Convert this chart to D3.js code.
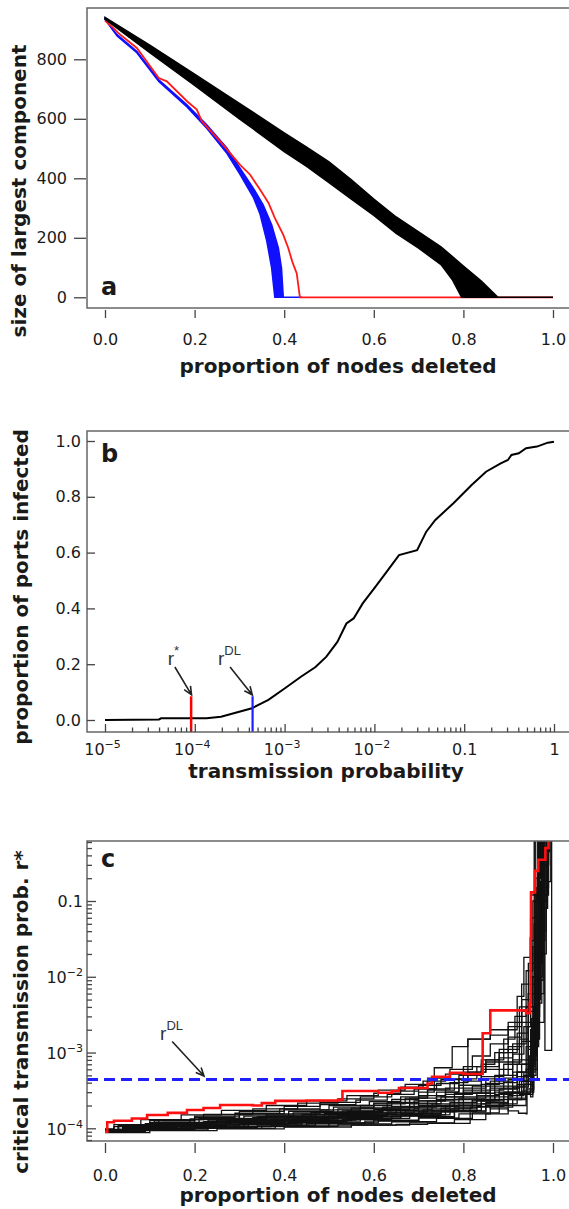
<!DOCTYPE html>
<html>
<head>
<meta charset="utf-8">
<script src="https://cdn.jsdelivr.net/npm/d3@7"></script>
<style>
  body { margin: 0; background: #fff; }
  svg text { font-family: "DejaVu Sans", sans-serif; fill: #1a1a1a; }
  .title { font-weight: bold; font-size: 20px; }
  .panel-label { font-weight: bold; font-size: 24px; }
  .annot { font-family: "Liberation Sans", Arial, sans-serif; fill: #333; }
</style>
</head>
<body>
<svg id="chart"></svg>
<script>
var W = 569, H = 1209;

// panel a: size of largest component vs proportion of nodes deleted
var aBlackHigh = [[0,941],[0.1,848],[0.2,750],[0.3,652],[0.4,553],[0.45,505],[0.5,455],[0.55,395],[0.6,330],[0.65,270],[0.7,220],[0.75,170],[0.8,105],[0.84,55],[0.877,0],[1.0,0]];
var aBlackLow = [[0,935],[0.1,822],[0.2,712],[0.3,600],[0.4,490],[0.45,440],[0.5,385],[0.55,330],[0.6,275],[0.65,215],[0.7,165],[0.75,110],[0.775,60],[0.796,0],[1.0,0]];
var aBlueHigh = [[0,935],[0.027,883],[0.071,827],[0.12,731],[0.183,647],[0.227,580],[0.272,502],[0.301,435],[0.331,367],[0.353,311],[0.372,244],[0.387,166],[0.394,98],[0.398,0],[0.44,0]];
var aBlueLow = [[0,934],[0.027,878],[0.071,822],[0.12,725],[0.183,640],[0.227,568],[0.272,484],[0.301,414],[0.331,336],[0.346,280],[0.361,190],[0.372,98],[0.379,0],[0.44,0]];
var aRed = [[0,930],[0.019,905],[0.03,888],[0.071,838],[0.12,737],[0.138,726],[0.183,659],[0.205,631],[0.216,592],[0.257,524],[0.301,446],[0.324,412],[0.346,362],[0.365,317],[0.379,267],[0.398,210],[0.409,166],[0.418,120],[0.428,80],[0.435,0],[1.0,0]];

// panel b: proportion of ports infected vs transmission probability
var bProb = [1e-5,4.0e-5,4.2e-5,1.35e-4,1.96e-4,4.33e-4,6.6e-4,1.0e-3,1.52e-3,2.21e-3,2.92e-3,3.87e-3,4.88e-3,5.87e-3,7.41e-3,1.03e-2,1.42e-2,1.88e-2,2.99e-2,3.78e-2,4.77e-2,7.59e-2,0.121,0.175,0.255,0.307,0.336,0.405,0.489,0.646,0.853,1.0];
var bFrac = [0,0.002,0.006,0.006,0.012,0.042,0.072,0.113,0.155,0.19,0.227,0.28,0.346,0.364,0.418,0.478,0.538,0.591,0.609,0.675,0.717,0.777,0.842,0.89,0.92,0.932,0.95,0.956,0.974,0.98,0.994,0.997];
var rStar = 9.1e-5, rDL = 4.4e-4, markerTop = 0.085;

// panel c: critical transmission prob r* vs proportion of nodes deleted
var cRed = [[0,9.0e-5],[0.005,1.2e-4],[0.02,1.26e-4],[0.06,1.35e-4],[0.094,1.5e-4],[0.14,1.6e-4],[0.183,1.74e-4],[0.22,1.85e-4],[0.257,2.03e-4],[0.33,2.0e-4],[0.35,2.15e-4],[0.38,2.3e-4],[0.45,2.33e-4],[0.52,2.37e-4],[0.53,3.1e-4],[0.61,2.95e-4],[0.64,3.1e-4],[0.656,3.4e-4],[0.72,3.9e-4],[0.73,4.8e-4],[0.77,5.4e-4],[0.8,5.2e-4],[0.843,1.8e-3],[0.86,3.6e-3],[0.94,3.3e-3],[0.948,4.5e-3],[0.95,3.2e-2],[0.951,0.13],[0.96,0.25],[0.967,0.35],[0.983,0.5],[0.99,1]];
var cRuns = [
  [[0,9.1e-5],[0.06,9.5e-5],[0.2,1.0e-4],[0.35,1.05e-4],[0.5,1.1e-4],[0.65,1.13e-4],[0.72,1.16e-4],[0.815,1.9e-4],[0.86,1.8e-4],[0.9,1.7e-4],[0.923,1.58e-4],[0.94,1.55e-4],[0.942,2.2e-3],[0.96,0.05],[0.975,1]],
  [[0,9.0e-5],[0.03,9.5e-5],[0.11,1.0e-4],[0.24,1.05e-4],[0.37,1.1e-4],[0.5,1.18e-4],[0.61,1.26e-4],[0.7,1.4e-4],[0.78,1.7e-4],[0.85,2.2e-4],[0.9,3.0e-4],[0.935,5.0e-4],[0.955,2.5e-3],[0.965,3e-2],[0.978,1]],
  [[0,9.2e-5],[0.05,1.0e-4],[0.14,1.1e-4],[0.26,1.2e-4],[0.35,1.32e-4],[0.47,1.45e-4],[0.58,1.6e-4],[0.66,1.9e-4],[0.74,2.4e-4],[0.8,3.0e-4],[0.86,4.2e-4],[0.91,8e-4],[0.945,3.5e-3],[0.96,4e-2],[0.975,1]],
  [[0,9.4e-5],[0.02,1.05e-4],[0.09,1.15e-4],[0.2,1.3e-4],[0.31,1.45e-4],[0.42,1.6e-4],[0.52,1.8e-4],[0.6,2.1e-4],[0.67,2.5e-4],[0.72,3.2e-4],[0.78,4.5e-4],[0.83,6.5e-4],[0.88,1.1e-3],[0.925,4e-3],[0.95,2e-2],[0.965,0.2],[0.972,1]],
  [[0,9.6e-5],[0.04,1.08e-4],[0.13,1.2e-4],[0.25,1.35e-4],[0.36,1.55e-4],[0.48,1.75e-4],[0.57,2.0e-4],[0.64,2.4e-4],[0.7,3.0e-4],[0.735,6.3e-4],[0.775,1.2e-3],[0.81,1.5e-3],[0.86,2.0e-3],[0.92,5.5e-3],[0.935,1.8e-2],[0.95,0.12],[0.96,1]],
  [[0,9.1e-5],[0.06,9.7e-5],[0.17,1.04e-4],[0.29,1.12e-4],[0.41,1.2e-4],[0.53,1.3e-4],[0.64,1.45e-4],[0.73,1.7e-4],[0.8,2.1e-4],[0.86,2.6e-4],[0.91,3.5e-4],[0.945,7e-4],[0.958,6e-3],[0.97,0.1],[0.985,1]],
  [[0,9.3e-5],[0.04,1.02e-4],[0.12,1.12e-4],[0.22,1.22e-4],[0.33,1.38e-4],[0.44,1.52e-4],[0.54,1.68e-4],[0.62,1.9e-4],[0.69,2.3e-4],[0.76,2.8e-4],[0.82,3.6e-4],[0.87,5e-4],[0.9,7.5e-4],[0.93,1.4e-3],[0.955,1e-2],[0.97,0.25],[0.98,1]],
  [[0,9.0e-5],[0.07,9.8e-5],[0.19,1.07e-4],[0.32,1.17e-4],[0.45,1.28e-4],[0.56,1.42e-4],[0.66,1.58e-4],[0.75,1.85e-4],[0.82,2.3e-4],[0.88,2.9e-4],[0.92,3.8e-4],[0.95,1.0e-3],[0.962,1.5e-2],[0.975,0.3],[0.99,1]],
  [[0,9.5e-5],[0.03,1.06e-4],[0.1,1.18e-4],[0.21,1.35e-4],[0.3,1.55e-4],[0.4,1.75e-4],[0.5,2.0e-4],[0.59,2.25e-4],[0.66,2.6e-4],[0.72,3.3e-4],[0.77,4.0e-4],[0.81,5.5e-4],[0.85,8e-4],[0.89,1.5e-3],[0.915,3e-3],[0.94,1.2e-2],[0.955,0.1],[0.965,1]],
  [[0,9.2e-5],[0.05,9.9e-5],[0.16,1.08e-4],[0.27,1.17e-4],[0.39,1.27e-4],[0.51,1.38e-4],[0.62,1.52e-4],[0.71,1.75e-4],[0.79,2.0e-4],[0.84,2.4e-4],[0.89,3.0e-4],[0.925,4.2e-4],[0.945,6.5e-4],[0.96,3e-3],[0.97,0.5],[0.982,1.07e-3],[0.997,1]],
  [[0,9.4e-5],[0.06,1.03e-4],[0.15,1.13e-4],[0.25,1.25e-4],[0.38,1.4e-4],[0.49,1.58e-4],[0.6,1.78e-4],[0.68,2.1e-4],[0.75,2.6e-4],[0.8,3.4e-4],[0.85,4.5e-4],[0.88,6e-4],[0.91,9.5e-4],[0.935,2.2e-3],[0.95,8e-3],[0.962,6e-2],[0.97,1]],
  [[0,9.1e-5],[0.08,9.6e-5],[0.2,1.03e-4],[0.34,1.1e-4],[0.47,1.18e-4],[0.6,1.28e-4],[0.7,1.42e-4],[0.78,1.65e-4],[0.85,2.0e-4],[0.9,2.5e-4],[0.94,3.3e-4],[0.957,5e-4],[0.962,4.5e-3],[0.975,8e-2],[0.988,1]],
  [[0,9.6e-5],[0.03,1.1e-4],[0.11,1.25e-4],[0.2,1.4e-4],[0.29,1.58e-4],[0.39,1.8e-4],[0.48,2.05e-4],[0.56,2.35e-4],[0.63,2.8e-4],[0.69,3.3e-4],[0.74,3.9e-4],[0.79,5e-4],[0.84,7e-4],[0.87,1.0e-3],[0.9,1.6e-3],[0.93,5e-3],[0.95,3e-2],[0.958,1]],
  [[0,9.3e-5],[0.05,1.01e-4],[0.14,1.09e-4],[0.26,1.19e-4],[0.4,1.32e-4],[0.52,1.47e-4],[0.63,1.65e-4],[0.72,1.95e-4],[0.79,2.5e-4],[0.85,3.2e-4],[0.89,4.0e-4],[0.92,5.5e-4],[0.95,2e-3],[0.965,2e-2],[0.978,0.45],[0.992,1]],
  [[0,9.0e-5],[0.09,9.5e-5],[0.23,1.0e-4],[0.38,1.06e-4],[0.52,1.14e-4],[0.64,1.22e-4],[0.74,1.35e-4],[0.82,1.6e-4],[0.88,2.1e-4],[0.92,2.9e-4],[0.95,4.5e-4],[0.965,2.5e-3],[0.98,0.15],[0.99,1]],
  [[0,9.5e-5],[0.04,1.04e-4],[0.13,1.15e-4],[0.23,1.28e-4],[0.34,1.42e-4],[0.46,1.62e-4],[0.55,1.85e-4],[0.63,2.2e-4],[0.7,2.7e-4],[0.76,3.4e-4],[0.8,4.2e-4],[0.84,6e-4],[0.88,8.5e-4],[0.91,1.3e-3],[0.94,4e-3],[0.955,2.5e-2],[0.968,1]],
  [[0,9.2e-5],[0.06,9.9e-5],[0.17,1.07e-4],[0.3,1.16e-4],[0.43,1.26e-4],[0.55,1.36e-4],[0.66,1.5e-4],[0.76,1.72e-4],[0.84,2.1e-4],[0.9,2.7e-4],[0.935,3.8e-4],[0.955,8e-4],[0.965,9e-3],[0.978,1]],
  [[0,9.4e-5],[0.05,1.03e-4],[0.15,1.14e-4],[0.27,1.27e-4],[0.4,1.44e-4],[0.52,1.62e-4],[0.62,1.85e-4],[0.7,2.3e-4],[0.76,3.0e-4],[0.79,4.5e-4],[0.81,1.5e-3],[0.86,1.7e-3],[0.9,2.2e-3],[0.93,3.5e-3],[0.945,1.5e-2],[0.96,0.2],[0.97,1]],
  [[0,9.1e-5],[0.07,9.7e-5],[0.18,1.05e-4],[0.31,1.14e-4],[0.44,1.24e-4],[0.57,1.35e-4],[0.68,1.5e-4],[0.77,1.8e-4],[0.83,2.3e-4],[0.87,3.0e-4],[0.9,3.4e-4],[0.925,2.8e-4],[0.95,2.6e-4],[0.955,1.5e-3],[0.97,4e-2],[0.985,1]],
  [[0,9.3e-5],[0.04,1.0e-4],[0.12,1.1e-4],[0.24,1.22e-4],[0.36,1.36e-4],[0.5,1.52e-4],[0.61,1.72e-4],[0.7,2.0e-4],[0.78,2.4e-4],[0.83,2.9e-4],[0.87,3.6e-4],[0.91,5.5e-4],[0.94,1.2e-3],[0.96,7e-3],[0.972,0.12],[0.99,1]],
  [[0,9.5e-5],[0.05,1.05e-4],[0.16,1.18e-4],[0.28,1.32e-4],[0.41,1.5e-4],[0.53,1.7e-4],[0.64,1.95e-4],[0.72,2.3e-4],[0.78,2.9e-4],[0.84,3.8e-4],[0.88,5e-4],[0.92,7e-4],[0.945,1.1e-3],[0.952,1.8e-3],[0.96,1.5e-2],[0.975,1]],
  [[0,9.2e-5],[0.04,1.0e-4],[0.13,1.08e-4],[0.25,1.18e-4],[0.37,1.3e-4],[0.5,1.44e-4],[0.6,1.6e-4],[0.69,1.85e-4],[0.77,2.2e-4],[0.83,2.7e-4],[0.88,3.3e-4],[0.92,4.8e-4],[0.948,9e-4],[0.958,4e-3],[0.968,6e-2],[0.98,1]],
  [[0,9.4e-5],[0.06,1.02e-4],[0.16,1.12e-4],[0.28,1.24e-4],[0.42,1.38e-4],[0.54,1.55e-4],[0.65,1.75e-4],[0.73,2.1e-4],[0.8,2.6e-4],[0.86,3.4e-4],[0.9,4.4e-4],[0.93,7e-4],[0.952,2.8e-3],[0.965,0.03],[0.982,1]],
  [[0,9.0e-5],[0.05,9.6e-5],[0.15,1.04e-4],[0.27,1.13e-4],[0.4,1.23e-4],[0.54,1.34e-4],[0.66,1.48e-4],[0.75,1.68e-4],[0.83,1.95e-4],[0.89,2.4e-4],[0.93,3.1e-4],[0.953,5.5e-4],[0.96,5e-3],[0.972,0.18],[0.995,1]],
  [[0,9.6e-5],[0.03,1.07e-4],[0.1,1.2e-4],[0.19,1.33e-4],[0.3,1.5e-4],[0.41,1.68e-4],[0.51,1.9e-4],[0.6,2.15e-4],[0.68,2.5e-4],[0.74,3.0e-4],[0.79,3.7e-4],[0.84,4.8e-4],[0.89,7e-4],[0.925,1.5e-3],[0.945,6e-3],[0.96,0.1],[0.97,1]],
  [[0,9.8e-5],[0.02,1.12e-4],[0.08,1.3e-4],[0.17,1.5e-4],[0.26,1.72e-4],[0.36,2.0e-4],[0.45,2.3e-4],[0.54,2.7e-4],[0.61,3.2e-4],[0.67,3.8e-4],[0.72,4.6e-4],[0.77,6e-4],[0.82,9e-4],[0.86,1.3e-3],[0.9,2.5e-3],[0.93,8e-3],[0.95,0.06],[0.96,1]],
  [[0,9.6e-5],[0.03,1.1e-4],[0.1,1.27e-4],[0.2,1.45e-4],[0.3,1.68e-4],[0.4,1.95e-4],[0.48,2.2e-4],[0.57,2.6e-4],[0.64,3.1e-4],[0.7,3.7e-4],[0.75,4.4e-4],[0.8,5.5e-4],[0.85,7.5e-4],[0.9,1.2e-3],[0.93,2.5e-3],[0.95,1e-2],[0.963,0.15],[0.975,1]],
  [[0,9.7e-5],[0.04,1.12e-4],[0.12,1.3e-4],[0.22,1.52e-4],[0.33,1.8e-4],[0.43,2.15e-4],[0.52,2.45e-4],[0.6,2.9e-4],[0.66,3.5e-4],[0.71,4.2e-4],[0.76,5.2e-4],[0.8,6.5e-4],[0.84,8e-4],[0.88,1.0e-3],[0.92,1.8e-3],[0.945,6e-3],[0.958,0.05],[0.97,1]],
  [[0,8.8e-5],[0.1,9.3e-5],[0.25,9.8e-5],[0.4,1.04e-4],[0.55,1.1e-4],[0.68,1.18e-4],[0.78,1.3e-4],[0.85,1.55e-4],[0.9,2.0e-4],[0.94,2.8e-4],[0.955,6e-4],[0.965,6e-3],[0.98,0.3],[0.99,1]],
  [[0,9.0e-5],[0.05,9.4e-5],[0.15,1.0e-4],[0.3,1.07e-4],[0.45,1.15e-4],[0.58,1.24e-4],[0.7,1.36e-4],[0.79,1.55e-4],[0.86,1.9e-4],[0.91,2.4e-4],[0.94,3.0e-4],[0.957,1.2e-3],[0.968,2e-2],[0.985,1]],
  [[0,9.3e-5],[0.07,1.0e-4],[0.18,1.1e-4],[0.3,1.22e-4],[0.43,1.36e-4],[0.56,1.52e-4],[0.67,1.7e-4],[0.76,2.0e-4],[0.82,2.4e-4],[0.87,2.8e-4],[0.91,3.6e-4],[0.94,6e-4],[0.956,4e-3],[0.97,0.1],[0.987,1]],
  [[0,9.1e-5],[0.03,9.7e-5],[0.12,1.05e-4],[0.22,1.13e-4],[0.35,1.22e-4],[0.48,1.33e-4],[0.6,1.46e-4],[0.7,1.64e-4],[0.78,1.9e-4],[0.84,2.3e-4],[0.89,2.9e-4],[0.93,4.2e-4],[0.952,9e-4],[0.963,1e-2],[0.976,1]],
  [[0,9.5e-5],[0.05,1.04e-4],[0.14,1.16e-4],[0.25,1.3e-4],[0.36,1.46e-4],[0.47,1.64e-4],[0.57,1.85e-4],[0.66,2.15e-4],[0.74,2.6e-4],[0.8,3.2e-4],[0.85,3.9e-4],[0.89,4.6e-4],[0.92,5.5e-4],[0.935,4.2e-4],[0.95,3.6e-4],[0.956,3e-3],[0.966,0.05],[0.98,1]]
];

// tick values
var propTicks = [0, 0.2, 0.4, 0.6, 0.8, 1.0];
var sizeTicks = [0, 200, 400, 600, 800];
var fracTicks = [0, 0.2, 0.4, 0.6, 0.8, 1.0];
var probTicks = [1e-5, 1e-4, 1e-3, 1e-2, 0.1, 1];
var critTicks = [1e-4, 1e-3, 1e-2, 0.1];

var svg = d3.select("#chart").attr("width", W).attr("height", H);
svg.append("rect").attr("width", W).attr("height", H).attr("fill", "#fff");

var boxA = {left: 87, right: 571, top: 8, bottom: 308},
    boxB = {left: 87, right: 571, top: 431, bottom: 732},
    boxC = {left: 87, right: 571, top: 841, bottom: 1141};

var xA = d3.scaleLinear().domain([0, 1]).range([105, 553]);
var yA = d3.scaleLinear().domain([0, 800]).range([297.3, 59.3]);
var xB = d3.scaleLog().domain([1e-5, 1]).range([105, 554]);
var yB = d3.scaleLinear().domain([0, 1]).range([720, 441]);
var xC = d3.scaleLinear().domain([0, 1]).range([105, 553]);
var yC = d3.scaleLog().domain([1e-4, 0.1]).range([1128.3, 901]);

function drawBox(b) {
  svg.append("rect")
    .attr("x", b.left).attr("y", b.top)
    .attr("width", b.right - b.left).attr("height", b.bottom - b.top)
    .attr("fill", "none").attr("stroke", "#666").attr("stroke-width", 1.5);
}

function styleAxis(g) {
  g.attr("font-family", "DejaVu Sans").attr("font-size", 16).attr("color", "#444");
  g.select(".domain").remove();
  g.selectAll(".tick line").attr("stroke-width", 1.3);
  g.selectAll(".tick text").attr("fill", "#1a1a1a");
}

function supLabel(g, v) {
  var t = g.append("text").attr("text-anchor", "middle");
  if (v >= 0.1) {
    t.text(v == 1 ? "1" : "0.1");
  } else {
    t.append("tspan").text("10");
    t.append("tspan").attr("dy", -7).attr("font-size", 11).text("\u2212" + Math.round(-Math.log10(v)));
  }
  return t;
}

function minorTicks(lo, hi) {
  var out = [];
  for (var e = -6; e <= 0; e++) {
    for (var m = 2; m <= 9; m++) {
      var v = m * Math.pow(10, e);
      if (v > lo && v < hi) out.push(v);
    }
  }
  return out;
}

function arrow(x0, y0, x1, y1) {
  var a = Math.atan2(y1 - y0, x1 - x0), L = 9, s = 0.42;
  var p = "M" + x0 + "," + y0 + "L" + x1 + "," + y1 +
    "M" + (x1 - L * Math.cos(a - s)) + "," + (y1 - L * Math.sin(a - s)) +
    "L" + x1 + "," + y1 +
    "L" + (x1 - L * Math.cos(a + s)) + "," + (y1 - L * Math.sin(a + s));
  svg.append("path").attr("d", p).attr("fill", "none")
    .attr("stroke", "#222").attr("stroke-width", 1.6);
}

function rLabel(x, y, sup) {
  var t = svg.append("text").attr("class", "annot").attr("x", x).attr("y", y).attr("font-size", 19);
  t.append("tspan").text("r");
  t.append("tspan").attr("dy", -10).attr("font-size", 13).text(sup);
}

// ===== panel a =====
var lineA = d3.line().x(function(d) { return xA(d[0]); }).y(function(d) { return yA(d[1]); });

svg.append("path")
  .datum(aBlueHigh.concat(aBlueLow.slice().reverse()))
  .attr("d", function(d) { return lineA(d) + "Z"; })
  .attr("fill", "#1010ff").attr("stroke", "#1010ff").attr("stroke-width", 1.5);

svg.append("path")
  .datum(aRed)
  .attr("d", lineA)
  .attr("fill", "none").attr("stroke", "#ff1a1a").attr("stroke-width", 1.8);

svg.append("path")
  .datum(aBlackHigh.concat(aBlackLow.slice().reverse()))
  .attr("d", function(d) { return lineA(d) + "Z"; })
  .attr("fill", "#000").attr("stroke", "#000").attr("stroke-width", 1.5);

drawBox(boxA);

svg.append("g").attr("transform", "translate(86,0)")
  .call(d3.axisLeft(yA).tickValues(sizeTicks).tickSize(12).tickPadding(7))
  .call(styleAxis);

svg.append("g").attr("transform", "translate(0,310)")
  .call(d3.axisBottom(xA).tickValues(propTicks).tickSize(8).tickFormat(d3.format(".1f")))
  .call(styleAxis)
  .selectAll(".tick text").attr("y", 35).attr("dy", 0);

svg.append("text").attr("class", "title").attr("text-anchor", "middle")
  .attr("x", 338).attr("y", 373).text("proportion of nodes deleted");
svg.append("text").attr("class", "title").attr("text-anchor", "middle")
  .attr("transform", "translate(26,191) rotate(-90)").text("size of largest component");
svg.append("text").attr("class", "panel-label").attr("x", 101).attr("y", 295).text("a");

// ===== panel b =====
var lineB = d3.line().x(function(d, i) { return xB(bProb[i]); }).y(function(d) { return yB(d); });

svg.append("path").datum(bFrac).attr("d", lineB)
  .attr("fill", "none").attr("stroke", "#000").attr("stroke-width", 2);

svg.append("line")
  .attr("x1", xB(rStar)).attr("x2", xB(rStar))
  .attr("y1", boxB.bottom).attr("y2", yB(markerTop))
  .attr("stroke", "#ff0000").attr("stroke-width", 2.5);
svg.append("line")
  .attr("x1", xB(rDL)).attr("x2", xB(rDL))
  .attr("y1", boxB.bottom).attr("y2", yB(markerTop))
  .attr("stroke", "#2020ff").attr("stroke-width", 2.2);

drawBox(boxB);

svg.append("g").attr("transform", "translate(0," + boxB.bottom + ")")
  .call(d3.axisBottom(xB).tickValues(minorTicks(1e-5, 1)).tickSize(-4.5).tickFormat(""))
  .call(styleAxis);

var bx = svg.append("g").attr("transform", "translate(0," + boxB.bottom + ")")
  .call(d3.axisBottom(xB).tickValues(probTicks).tickSize(-8).tickFormat(""))
  .call(styleAxis);
bx.selectAll(".tick").each(function(v) {
  supLabel(d3.select(this), v).attr("x", v < 0.1 ? -3 : 0).attr("y", 23);
});

svg.append("g").attr("transform", "translate(" + boxB.left + ",0)")
  .call(d3.axisLeft(yB).tickValues(fracTicks).tickSize(-8).tickPadding(6).tickFormat(d3.format(".1f")))
  .call(styleAxis);

arrow(xB(6.0e-5), yB(0.19), xB(9.2e-5), yB(0.09));
arrow(xB(2.47e-4), yB(0.19), xB(4.37e-4), yB(0.09));
rLabel(xB(5.0e-5), yB(0.197), "*");
rLabel(xB(1.81e-4), yB(0.197), "DL");

svg.append("text").attr("class", "title").attr("text-anchor", "middle")
  .attr("x", 326).attr("y", 778).text("transmission probability");
svg.append("text").attr("class", "title").attr("text-anchor", "middle")
  .attr("transform", "translate(28,587) rotate(-90)").text("proportion of ports infected");
svg.append("text").attr("class", "panel-label").attr("x", 101).attr("y", 462).text("b");

// ===== panel c =====
svg.append("clipPath").attr("id", "clipC").append("rect")
  .attr("x", boxC.left).attr("y", boxC.top)
  .attr("width", boxC.right - boxC.left).attr("height", boxC.bottom - boxC.top);

var lineC = d3.line().curve(d3.curveStepAfter)
  .x(function(d) { return xC(d[0]); }).y(function(d) { return yC(d[1]); });

var gc = svg.append("g").attr("clip-path", "url(#clipC)");

gc.selectAll("path.run").data(cRuns).enter().append("path")
  .attr("class", "run").attr("d", lineC)
  .attr("fill", "none").attr("stroke", "#111").attr("stroke-width", 1.3);

gc.append("path").datum(cRed).attr("d", lineC)
  .attr("fill", "none").attr("stroke", "#ff1010").attr("stroke-width", 2.6);

gc.append("line")
  .attr("x1", boxC.left).attr("x2", boxC.right)
  .attr("y1", yC(rDL)).attr("y2", yC(rDL))
  .attr("stroke", "#2020ff").attr("stroke-width", 3).attr("stroke-dasharray", "11,6");

drawBox(boxC);

svg.append("g").attr("transform", "translate(" + boxC.left + ",0)")
  .call(d3.axisLeft(yC).tickValues(minorTicks(6.5e-5, 0.62)).tickSize(-5).tickFormat(""))
  .call(styleAxis);

var cy = svg.append("g").attr("transform", "translate(" + boxC.left + ",0)")
  .call(d3.axisLeft(yC).tickValues(critTicks).tickSize(-9).tickFormat(""))
  .call(styleAxis);
cy.selectAll(".tick").each(function(v) {
  supLabel(d3.select(this), v).attr("text-anchor", "end").attr("x", -4).attr("dy", "0.36em");
});

svg.append("g").attr("transform", "translate(0,1143)")
  .call(d3.axisBottom(xC).tickValues(propTicks).tickSize(10).tickFormat(d3.format(".1f")))
  .call(styleAxis)
  .selectAll(".tick text").attr("y", 38).attr("dy", 0);

arrow(xC(0.15), yC(1.4e-3), xC(0.221), yC(4.9e-4));
rLabel(xC(0.123), yC(1.46e-3), "DL");

svg.append("text").attr("class", "title").attr("text-anchor", "middle")
  .attr("x", 338).attr("y", 1202).text("proportion of nodes deleted");
svg.append("text").attr("class", "title").attr("text-anchor", "middle")
  .attr("transform", "translate(28,1012) rotate(-90)").text("critical transmission prob. r*");
svg.append("text").attr("class", "panel-label").attr("x", 101).attr("y", 867).text("c");
</script>
</body>
</html>
